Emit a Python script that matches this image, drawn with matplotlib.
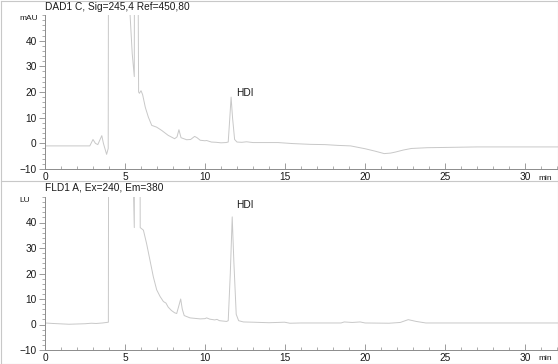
"""Two-panel HPLC chromatogram (DAD and FLD traces) with HDI peak marked."""

import matplotlib
matplotlib.use("Agg")
import matplotlib.pyplot as plt
from matplotlib.lines import Line2D
from matplotlib.ticker import MultipleLocator

plt.rcParams["font.family"] = ["Liberation Sans", "DejaVu Sans"]

# DAD trace (time in min, signal in mAU); off-scale parts just set high
dad_time = [0, 2.8, 3.0, 3.15, 3.3, 3.55, 3.65, 3.85, 3.95, 4.02, 4.05, 5.0,
            5.3, 5.45, 5.58, 5.62, 5.72, 5.85, 5.9, 6.0, 6.1, 6.27, 6.46, 6.67,
            6.98, 7.3, 7.7, 8.1, 8.25, 8.37, 8.5, 8.85, 9.1, 9.35, 9.5, 9.7,
            10.0, 10.1, 10.4, 10.7, 11.0, 11.3, 11.45, 11.55, 11.63, 11.72,
            11.85, 12.0, 12.3, 12.6, 13.0, 14.0, 14.56, 15.5, 16.6, 17.5, 18.3,
            19.1, 20.0, 20.6, 21.2, 21.6, 21.9, 22.4, 22.9, 23.9, 25.0, 27.0, 32.1]
dad_signal = [-1, -1, 1.5, 0, -0.5, 3.0, 0, -4.3, -2, 300, 400, 400,
              52, 35, 26, 200, 200, 20, 19.5, 20.5, 19, 14, 10.2, 7,
              6.3, 5, 3.1, 1.8, 2.5, 5.3, 2.2, 1.4, 1.5, 2.7, 2.2, 1.2,
              1.0, 1.1, 0.5, 0.4, 0.2, 0.3, 0.5, 10, 18, 10,
              1.5, 0.5, 0.4, 0.6, 0.3, 0.3, 0.3, -0.1, -0.4, -0.5, -0.8,
              -1.0, -2.1, -3.0, -4.0, -3.8, -3.4, -2.6, -2.0, -1.7, -1.6, -1.4, -1.4]

# FLD trace (time in min, signal in LU)
fld_time = [0, 0.5, 1.5, 2.5, 2.9, 3.2, 3.6, 3.96, 4.02, 5.4, 5.52, 5.58,
            5.62, 5.9, 5.95, 6.05, 6.15, 6.35, 6.56, 6.77, 6.98, 7.19, 7.4,
            7.56, 7.7, 7.9, 8.1, 8.23, 8.35, 8.48, 8.58, 8.7, 9.06, 9.7, 10.0,
            10.1, 10.3, 10.6, 10.75, 10.9, 11.35, 11.45, 11.58, 11.7, 11.8,
            11.95, 12.1, 12.4, 13.0, 14.0, 14.97, 15.3, 16.0, 18.5, 18.7, 19.2,
            19.7, 20.0, 21.5, 22.2, 22.7, 23.2, 23.8, 32.1]
fld_signal = [0.6, 0.4, 0.1, 0.3, 0.5, 0.4, 0.6, 0.9, 300, 300, 55, 38,
              200, 200, 38, 37.5, 37, 31.7, 25.2, 18.7, 13.6, 11, 9,
              8.4, 6.8, 5.5, 4.6, 4.3, 7, 10, 6, 3.5, 2.6, 2.2, 2.3,
              2.6, 2.1, 1.8, 2.0, 1.5, 1.2, 1.5, 20, 42.2, 25,
              4, 1.5, 1.0, 0.9, 0.7, 0.9, 0.5, 0.6, 0.6, 1.0, 0.8,
              1.0, 0.6, 0.5, 0.8, 1.9, 1.2, 0.6, 0.6]

panel_titles = ["DAD1 C, Sig=245,4 Ref=450,80", "FLD1 A, Ex=240, Em=380"]
y_units = ["mAU", "LU"]
peak_label = "HDI"
peak_label_pos = [(11.94, 19.7), (11.94, 47.0)]

W, H = 558, 364
fig = plt.figure(figsize=(W / 100, H / 100), dpi=100)

line_color = "#c8c8c8"
axis_color = "#8c8c8c"
text_color = "#1a1a1a"


def px(x, y):
    """Pixel position (from top-left) to figure fraction."""
    return x / W, 1 - y / H


def draw_panel(rect, time, signal, title, unit, label_pos, title_y, unit_y, min_y):
    ax = fig.add_axes(rect)
    ax.plot(time, signal, color=line_color, linewidth=0.7)
    ax.set_xlim(0, 32.06)
    ax.set_ylim(-10, 50)
    for side in ["top", "right"]:
        ax.spines[side].set_visible(False)
    for side in ["left", "bottom"]:
        ax.spines[side].set_color(axis_color)
        ax.spines[side].set_linewidth(0.7)
    ax.set_yticks([-10, 0, 10, 20, 30, 40])
    ax.set_xticks([0, 5, 10, 15, 20, 25, 30])
    ax.yaxis.set_minor_locator(MultipleLocator(2))
    ax.xaxis.set_minor_locator(MultipleLocator(1))
    ax.tick_params(axis="y", which="major", direction="out", length=4, width=0.6,
                   color=axis_color, labelsize=7.3, pad=2, labelcolor=text_color)
    ax.tick_params(axis="y", which="minor", direction="out", length=2, width=0.5,
                   color=axis_color)
    ax.tick_params(axis="x", which="major", direction="in", length=4, width=0.6,
                   color=axis_color, labelsize=7.3, pad=2, labelcolor=text_color)
    ax.tick_params(axis="x", which="minor", direction="in", length=2, width=0.5,
                   color=axis_color)
    ax.text(label_pos[0], label_pos[1], peak_label, fontsize=7.3, color=text_color,
            ha="left", va="center")
    fig.text(*px(45, title_y), title, fontsize=7.3, color=text_color, ha="left", va="top")
    fig.text(*px(19, unit_y), unit, fontsize=6, color=text_color, ha="left", va="center")
    fig.text(*px(538, min_y), "min", fontsize=6, color=text_color, ha="left", va="center")
    return ax


draw_panel([45 / W, 1 - 169 / H, (W - 45) / W, 154 / H], dad_time, dad_signal,
           panel_titles[0], y_units[0], peak_label_pos[0], 2, 19, 178)
draw_panel([45 / W, 1 - 350 / H, (W - 45) / W, 153 / H], fld_time, fld_signal,
           panel_titles[1], y_units[1], peak_label_pos[1], 182, 200, 359)

# light frame around each panel
frame_color = "#c8c8c8"
for (x0, y0), (x1, y1) in [((0.5, 0.5), (557.5, 0.5)), ((0.5, 181), (557.5, 181)),
                           ((0.5, 363.5), (557.5, 363.5)), ((0.5, 0.5), (0.5, 363.5)),
                           ((557.5, 0.5), (557.5, 363.5))]:
    a, b = px(x0, y0)
    c, d = px(x1, y1)
    fig.add_artist(Line2D([a, c], [b, d], color=frame_color, linewidth=0.8,
                          transform=fig.transFigure))

fig.savefig("out.png", dpi=100)
